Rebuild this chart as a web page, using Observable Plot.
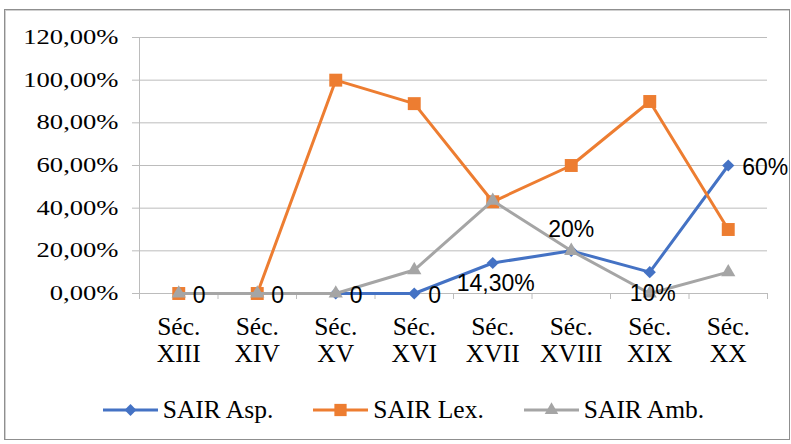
<!DOCTYPE html>
<html><head><meta charset="utf-8">
<script src="https://cdn.jsdelivr.net/npm/d3@7"></script>
<script src="https://cdn.jsdelivr.net/npm/@observablehq/plot@0.6"></script>
<style>
body{margin:0;background:#fff;}
#wrap{position:relative;width:791px;height:444px;overflow:hidden;background:#fff;}
#frame{position:absolute;left:4px;top:9px;width:786px;height:431px;border:1px solid #8f8f8f;box-shadow:inset 1px 1px 0 #d0d0d0;box-sizing:border-box;}
#chart{position:absolute;left:0;top:0;}
#legend{position:absolute;left:8px;top:396px;width:791px;height:28px;display:flex;justify-content:center;align-items:center;font-family:"Liberation Serif";font-size:25.5px;color:#000;}
.item{display:flex;align-items:center;margin:0 20px;}
.item svg{margin-right:5px;}
</style></head><body>
<div id="wrap"><div id="frame"></div><div id="chart"></div><div id="legend"></div></div>
<script>
const categories = ["Séc.\nXIII","Séc.\nXIV","Séc.\nXV","Séc.\nXVI","Séc.\nXVII","Séc.\nXVIII","Séc.\nXIX","Séc.\nXX"];
const sairAsp = [0, 0, 0, 0, 14.3, 20, 10, 60];
const sairLex = [0, 0, 100, 89, 43, 60, 90, 30];
const sairAmb = [0, 0, 0, 11, 43.5, 20, 0, 10];
const aspLabels = ["0","0","0","0","14,30%","20%","10%","60%"];
const aspLabelPos = ["right","right","right","right","below","above","below","right"];
const yTicks = [0, 20, 40, 60, 80, 100, 120];
const seriesNames = ["SAIR Asp.","SAIR Lex.","SAIR Amb."];
const seriesColors = ["#4472C4","#ED7D31","#A5A5A5"];

const rows = categories.map((c, i) => ({
  i, cat: c, asp: sairAsp[i], lex: sairLex[i], amb: sairAmb[i],
  label: aspLabels[i], pos: aspLabelPos[i]
}));
const xc = d => d.i + 0.5;
const grid = "#bcbcbc";
const yFmt = v => v.toFixed(2).replace(".", ",") + "%";

const plot = Plot.plot({
  width: 791, height: 385,
  marginLeft: 139, marginRight: 24, marginTop: 37, marginBottom: 92,
  x: {domain: [0, categories.length], axis: null},
  y: {domain: [0, 120], axis: null},
  style: {background: "transparent", overflow: "visible"},
  marks: [
    Plot.gridY(yTicks, {stroke: grid, strokeOpacity: 1, strokeWidth: 1}),
    Plot.ruleX([0], {stroke: grid}),
    Plot.ruleY([0], {stroke: grid}),
    Plot.axisY(yTicks, {tickSize: 7, tickPadding: 14, stroke: grid, strokeOpacity: 1, fill: "#000",
      tickFormat: yFmt, fontSize: 20, fontFamily: "Liberation Serif"}),
    Plot.axisX(d3.range(categories.length + 1), {tickSize: 6, stroke: grid, strokeOpacity: 1, tickFormat: () => ""}),
    Plot.axisX(rows.map(xc), {tickSize: 0, tickPadding: 22, fill: "#000",
      tickFormat: v => categories[Math.floor(v)], fontSize: 25.5, fontFamily: "Liberation Serif", lineHeight: 1.07}),
    Plot.lineY(rows, {x: xc, y: "asp", stroke: seriesColors[0], strokeWidth: 3}),
    Plot.dot(rows, {x: xc, y: "asp", symbol: "diamond2", r: 5.5, fill: seriesColors[0], stroke: "none"}),
    Plot.lineY(rows, {x: xc, y: "lex", stroke: seriesColors[1], strokeWidth: 3}),
    Plot.dot(rows, {x: xc, y: "lex", symbol: "square", r: 7.3, fill: seriesColors[1], stroke: "none"}),
    Plot.lineY(rows, {x: xc, y: "amb", stroke: seriesColors[2], strokeWidth: 3}),
    Plot.dot(rows, {x: xc, y: "amb", symbol: "triangle", r: 5.3, fill: seriesColors[2], stroke: "none"}),
    Plot.text(rows, {filter: d => d.pos === "right", x: xc, y: "asp", text: "label", textAnchor: "start",
      dx: 14, dy: 2, fontSize: 23, fontFamily: "Liberation Sans", fill: "#000"}),
    Plot.text(rows, {filter: d => d.pos === "below", x: xc, y: "asp", text: "label",
      dx: 3, dy: 21, fontSize: 23, fontFamily: "Liberation Sans", fill: "#000"}),
    Plot.text(rows, {filter: d => d.pos === "above", x: xc, y: "asp", text: "label",
      dy: -21, fontSize: 23, fontFamily: "Liberation Sans", fill: "#000"})
  ]
});
document.getElementById("chart").appendChild(plot);

// stretch y tick labels horizontally to match reference typography
plot.querySelectorAll('g[aria-label="y-axis tick label"] text').forEach(t => {
  const tr = t.getAttribute("transform");
  if (tr) t.setAttribute("transform", tr + " scale(1.33,1)");
  else {
    const x = +t.getAttribute("x") || 0, y = +t.getAttribute("y") || 0;
    t.removeAttribute("x"); t.removeAttribute("y");
    t.setAttribute("transform", `translate(${x},${y}) scale(1.33,1)`);
  }
});

// legend
const symbols = [d3.symbolDiamond2, d3.symbolSquare, d3.symbolTriangle];
const symSizes = [90, 150, 80];
const legend = document.getElementById("legend");
seriesNames.forEach((name, k) => {
  const item = document.createElement("div");
  item.className = "item";
  const path = d3.symbol(symbols[k], symSizes[k])();
  item.innerHTML = `<svg width="55" height="20"><line x1="0" x2="55" y1="10" y2="10" stroke="${seriesColors[k]}" stroke-width="3"/><path transform="translate(27.5,10)" d="${path}" fill="${seriesColors[k]}"/></svg><span>${name}</span>`;
  legend.appendChild(item);
});
</script>
</body></html>
